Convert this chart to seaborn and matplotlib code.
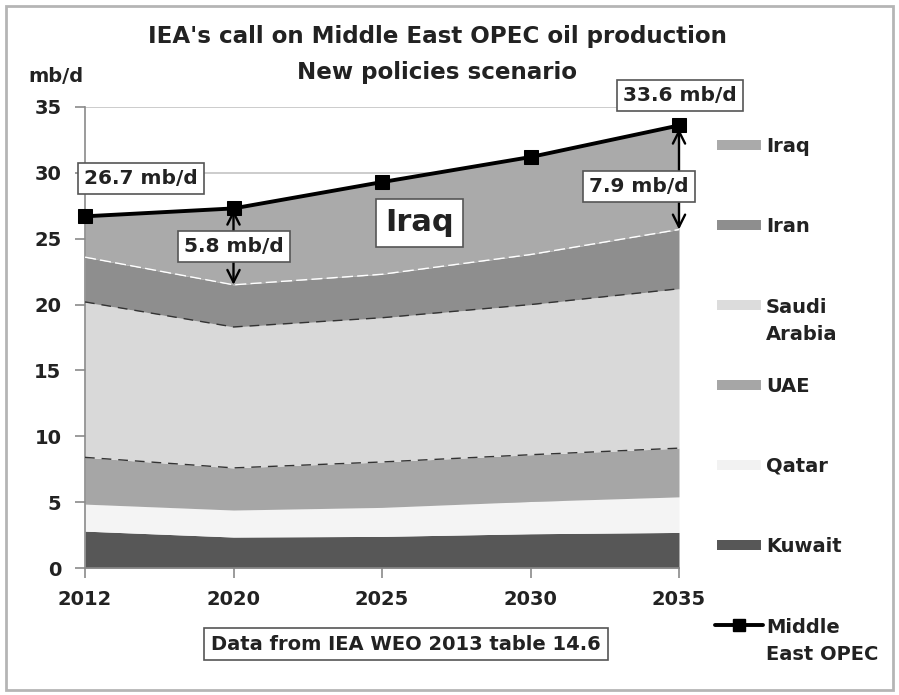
import numpy as np
import pandas as pd
import matplotlib
matplotlib.use("Agg")
import matplotlib.pyplot as plt
import seaborn as sns
from matplotlib.patches import Rectangle
from matplotlib.lines import Line2D

# ---------------- data (mb/d) ----------------
years = ["2012", "2020", "2025", "2030", "2035"]
kuwait = [2.8, 2.35, 2.4, 2.6, 2.7]
qatar = [2.05, 2.05, 2.2, 2.45, 2.7]
uae = [3.55, 3.2, 3.45, 3.55, 3.7]
saudi = [11.8, 10.7, 10.95, 11.4, 12.1]
iran = [3.4, 3.2, 3.3, 3.8, 4.5]
iraq = [3.1, 5.8, 7.0, 7.4, 7.9]
me_opec = [26.7, 27.3, 29.3, 31.2, 33.6]
yticks = [0, 5, 10, 15, 20, 25, 30, 35]

legend_labels = ["Iraq", "Iran", "Saudi\nArabia", "UAE", "Qatar", "Kuwait"]
legend_colors = ["#aaaaaa", "#8e8e8e", "#dcdcdc", "#a6a6a6", "#f2f2f2", "#575757"]

sns.set_theme(style="white")
plt.rcParams["font.family"] = ["DejaVu Sans"]
plt.rcParams["font.weight"] = "bold"

W, H = 899, 695
fig = plt.figure(figsize=(W / 100, H / 100), dpi=100)
fig.patch.set_facecolor("white")
ax = fig.add_axes([85 / W, 127 / H, 594 / W, 461 / H])
ax.set_facecolor("white")

x = np.arange(len(years))
ax.set_yticks(yticks)
ax.yaxis.grid(True, color="#c4c4c4", lw=1.2)
ax.set_axisbelow(True)

# stacked areas (bottom to top)
ax.stackplot(x, kuwait, qatar, uae, saudi, iran, iraq,
             colors=["#575757", "#f4f4f4", "#a6a6a6", "#d9d9d9", "#8e8e8e", "#aaaaaa"],
             lw=0, zorder=2)

cum = np.cumsum(np.array([kuwait, qatar, uae, saudi, iran]), axis=0)
ax.plot(x, cum[2], color="#333333", lw=1.0, ls=(0, (7, 5)), zorder=3)
ax.plot(x, cum[3], color="#333333", lw=1.0, ls=(0, (7, 5)), zorder=3)
ax.plot(x, cum[4], color="white", lw=1.0, ls=(0, (8, 3)), zorder=3)

# total line
df = pd.DataFrame({"pos": x, "total": me_opec})
sns.lineplot(data=df, x="pos", y="total", ax=ax, color="black", lw=2.8,
             marker="s", markersize=10, markeredgecolor="black", zorder=5,
             clip_on=False, legend=False)

ax.set_xlim(0, len(years) - 1)
ax.set_ylim(0, 35)
ax.set_xticks(x)
ax.set_xticklabels(years)
ax.set_xlabel("")
ax.set_ylabel("")
for s in ["top", "right"]:
    ax.spines[s].set_visible(False)
for s in ["left", "bottom"]:
    ax.spines[s].set_color("#8a8a8a")
    ax.spines[s].set_linewidth(1.2)
ax.tick_params(axis="both", direction="out", length=7, width=1.2, color="#8a8a8a",
               labelsize=14, labelcolor="#222222")
ax.tick_params(axis="y", pad=10, left=True)
ax.tick_params(axis="x", pad=9, bottom=True)
for t in ax.get_xticklabels() + ax.get_yticklabels():
    t.set_fontweight("bold")

# arrows
arrow_kw = dict(arrowstyle="<->", lw=1.7, color="black", shrinkA=0, shrinkB=0,
                mutation_scale=22)
ax.annotate("", xy=(1, me_opec[1] - 0.1), xytext=(1, me_opec[1] - iraq[1]),
            arrowprops=arrow_kw, zorder=6, annotation_clip=False)
ax.annotate("", xy=(4, me_opec[4] - 0.25), xytext=(4, me_opec[4] - iraq[4]),
            arrowprops=arrow_kw, zorder=6, annotation_clip=False)

box = dict(boxstyle="square,pad=0.3", fc="white", ec="#555555", lw=1.2)
lab_kw = dict(ha="center", va="center", fontsize=14.5, fontweight="bold",
              color="#222222", bbox=box, zorder=8, clip_on=False)
ax.text(0.377, 29.55, "26.7 mb/d", **lab_kw)
ax.text(1.003, 24.4, "5.8 mb/d", **lab_kw)
ax.text(3.73, 28.93, "7.9 mb/d", **lab_kw)
ax.text(4.007, 35.88, "33.6 mb/d", **lab_kw)
ax.text(2.25, 26.2, "Iraq", ha="center", va="center", fontsize=22,
        fontweight="bold", color="#222222",
        bbox=dict(boxstyle="square,pad=0.3", fc="white", ec="#555555", lw=1.2),
        zorder=8)

# titles
fig.text(437 / W, 1 - 37 / H, "IEA's call on Middle East OPEC oil production",
         ha="center", va="center", fontsize=16.6, fontweight="bold", color="#222222")
fig.text(437 / W, 1 - 72 / H, "New policies scenario",
         ha="center", va="center", fontsize=16.6, fontweight="bold", color="#222222")
fig.text(56 / W, 1 - 77 / H, "mb/d", ha="center", va="center", fontsize=14,
         fontweight="bold", color="#222222")
fig.text(406 / W, 1 - 644 / H, "Data from IEA WEO 2013 table 14.6",
         ha="center", va="center", fontsize=14, fontweight="bold", color="#222222",
         bbox=dict(boxstyle="square,pad=0.35", fc="white", ec="#555555", lw=1.2))

# legend (drawn at the right); multi-line labels are anchored on their last line
ys = [145, 225, 305, 385, 465, 545]
for lab, col, yy in zip(legend_labels, legend_colors, ys):
    fig.patches.append(Rectangle((717 / W, 1 - (yy + 5) / H), 44 / W, 10 / H,
                                 transform=fig.transFigure, fc=col, ec="none"))
    extra = 28 * lab.count("\n")
    fig.text(766 / W, 1 - (yy + 7 + extra) / H, lab, ha="left", va="baseline",
             fontsize=14, fontweight="bold", color="#222222", linespacing=1.56)
fig.lines.append(Line2D([715 / W, 763 / W], [1 - 625 / H, 1 - 625 / H],
                        transform=fig.transFigure, color="black", lw=2.8))
fig.lines.append(Line2D([739 / W], [1 - 625 / H], transform=fig.transFigure,
                        color="black", marker="s", markersize=9))
fig.text(766 / W, 1 - (632 + 28) / H, "Middle\nEast OPEC", ha="left", va="baseline",
         fontsize=14, fontweight="bold", color="#222222", linespacing=1.56)

# outer frame
fig.patches.append(Rectangle((6 / W, 5 / H), 887 / W, 684 / H, transform=fig.transFigure,
                             fc="none", ec="#b5b5b5", lw=2))

fig.savefig("out.png", dpi=100, facecolor="white")
